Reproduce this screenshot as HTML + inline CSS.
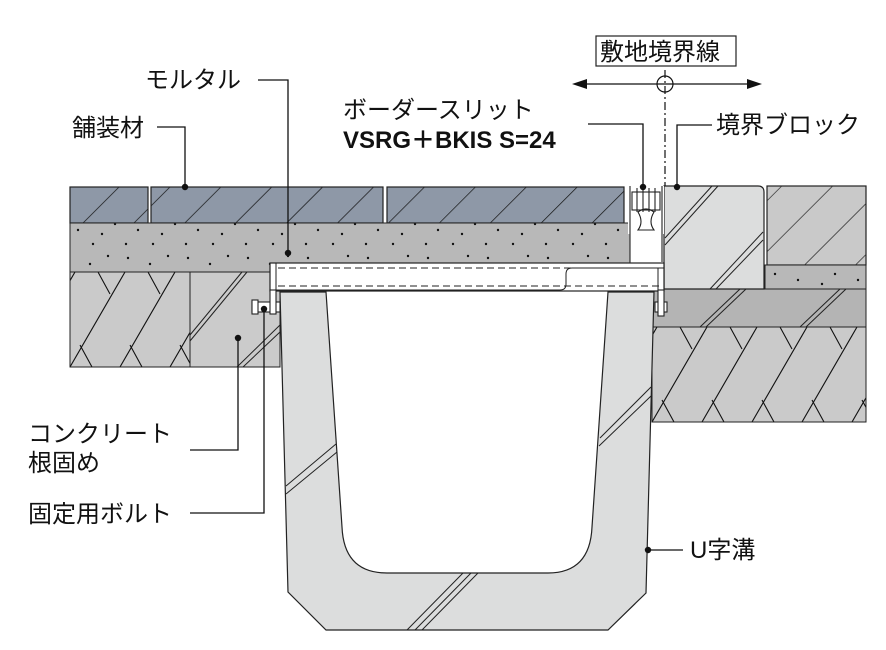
<!DOCTYPE html>
<html><head><meta charset="utf-8"><style>
html,body{margin:0;padding:0;background:#fff}
svg{display:block}
text{font-family:"Liberation Sans","Noto Sans CJK JP",sans-serif;font-size:24px;fill:#111}
</style></head><body>
<svg width="886" height="650" viewBox="0 0 886 650" xmlns="http://www.w3.org/2000/svg">
<defs>
<pattern id="pave" width="36" height="36" patternUnits="userSpaceOnUse" patternTransform="rotate(45)">
<rect width="36" height="36" fill="#8e98a7"/><line x1="0" y1="0" x2="0" y2="36" stroke="#111" stroke-width="1.4"/></pattern>
<pattern id="blk" width="36" height="36" patternUnits="userSpaceOnUse" patternTransform="rotate(45)">
<rect width="36" height="36" fill="#c9c9c9"/><line x1="0" y1="0" x2="0" y2="36" stroke="#111" stroke-width="1.2"/></pattern>
<pattern id="soilL" width="50" height="95" patternUnits="userSpaceOnUse" x="70" y="272">
<rect width="50" height="95" fill="#cacaca"/>
<g stroke="#111" stroke-width="1.1"><line x1="-100" y1="95" x2="-45" y2="0"/><line x1="-50" y1="95" x2="5" y2="0"/><line x1="0" y1="95" x2="55" y2="0"/><line x1="50" y1="95" x2="105" y2="0"/>
<line x1="28" y1="0" x2="40" y2="22"/><line x1="22" y1="95" x2="10" y2="73"/></g></pattern>
<pattern id="soilR" width="50" height="95" patternUnits="userSpaceOnUse" x="652" y="327">
<rect width="50" height="95" fill="#cacaca"/>
<g stroke="#111" stroke-width="1.1"><line x1="-100" y1="95" x2="-45" y2="0"/><line x1="-50" y1="95" x2="5" y2="0"/><line x1="0" y1="95" x2="55" y2="0"/><line x1="50" y1="95" x2="105" y2="0"/>
<line x1="28" y1="0" x2="40" y2="22"/><line x1="22" y1="95" x2="10" y2="73"/></g></pattern>
<pattern id="mort" width="60" height="50" patternUnits="userSpaceOnUse">
<rect width="60" height="50" fill="#b8b8b8"/>
<g fill="#111"><circle cx="8" cy="8" r="1.2"/><circle cx="30" cy="14" r="1.2"/><circle cx="48" cy="6" r="1.2"/><circle cx="18" cy="30" r="1.2"/><circle cx="42" cy="34" r="1.2"/><circle cx="55" cy="24" r="1.2"/><circle cx="6" cy="44" r="1.2"/><circle cx="33" cy="44" r="1.2"/></g></pattern>
</defs>

<rect x="70" y="187" width="78" height="36" fill="url(#pave)" stroke="#222" stroke-width="1.2"/>
<rect x="151" y="187" width="232" height="36" fill="url(#pave)" stroke="#222" stroke-width="1.2"/>
<rect x="387" y="187" width="237" height="36" fill="url(#pave)" stroke="#222" stroke-width="1.2"/>
<rect x="70" y="223" width="560" height="49" fill="url(#mort)" stroke="#222" stroke-width="1"/>
<rect x="70" y="272" width="120" height="95" fill="url(#soilL)" stroke="#222" stroke-width="1"/>
<rect x="190" y="272" width="90" height="95" fill="#cbcbcb" stroke="#222" stroke-width="1"/>
<g stroke="#222" stroke-width="1"><line x1="190" y1="335" x2="242" y2="272"/><line x1="190" y1="341" x2="247" y2="272"/><line x1="237" y1="367" x2="280" y2="325"/><line x1="243" y1="367" x2="280" y2="332"/></g>

<rect x="652" y="289" width="214" height="38" fill="#b4b4b4" stroke="#222" stroke-width="1"/>
<g stroke="#222" stroke-width="1"><line x1="700" y1="327" x2="740" y2="289"/><line x1="706" y1="327" x2="746" y2="289"/><line x1="800" y1="327" x2="840" y2="289"/><line x1="806" y1="327" x2="846" y2="289"/></g>
<rect x="652" y="327" width="214" height="95" fill="url(#soilR)" stroke="#222" stroke-width="1"/>
<rect x="767" y="186" width="99" height="79" fill="url(#blk)" stroke="#222" stroke-width="1.2"/>
<rect x="765" y="265" width="101" height="24" fill="url(#mort)" stroke="#222" stroke-width="1"/>
<path d="M664 186 H758 Q764 186 764 192 V289 H664 Z" fill="#dcdddd" stroke="#222" stroke-width="1.2"/>
<g stroke="#222" stroke-width="1"><line x1="665" y1="238" x2="712" y2="186"/><line x1="665" y1="245" x2="718" y2="186"/><line x1="710" y1="289" x2="763" y2="232"/><line x1="716" y1="289" x2="763" y2="240"/></g>

<rect x="628" y="186" width="36" height="48" fill="#fff"/>
<g fill="none" stroke="#222" stroke-width="1.1">
<rect x="632" y="192" width="28" height="18"/><path d="M637 188 V212 M643 188 V212 M649 188 V212 M655 188 V212"/>
<path d="M638 212 Q646 206 654 212 Q648 222 654 230 H638 Q644 222 638 212Z"/>
<path d="M630 186 V262 M662 186 V262"/></g>

<rect x="270" y="263" width="394" height="28" fill="#fff" stroke="#222" stroke-width="1.2"/>
<g stroke="#222" stroke-width="1" fill="none"><line x1="278" y1="268" x2="630" y2="268" stroke-dasharray="7 4"/><line x1="278" y1="286" x2="660" y2="286" stroke-dasharray="7 4"/>
<path d="M270 290 H560 Q566 290 566 284 V274 Q566 268 572 268 H664"/><path d="M276 263 V291 M658 268 V291"/></g>

<path d="M280 292 L326 292 L342 527 Q344 573 387 573 L548 573 Q590 573 592 527 L608 292 L654 292 L646 593 L608 630 L326 630 L288 592 Z" fill="#dcdddd" stroke="#222" stroke-width="1.2"/>
<g stroke="#222" stroke-width="1"><line x1="286" y1="486" x2="336" y2="444"/><line x1="286" y1="494" x2="337" y2="452"/>
<line x1="600" y1="438" x2="651" y2="387"/><line x1="599" y1="446" x2="651" y2="396"/>
<line x1="407" y1="630" x2="463" y2="573"/><line x1="415" y1="630" x2="471" y2="573"/><line x1="422" y1="630" x2="478" y2="573"/></g>

<g fill="#fff" stroke="#222" stroke-width="1.1">
<rect x="252" y="302" width="28" height="10"/><rect x="252" y="300" width="6" height="14"/><rect x="270" y="290" width="6" height="24"/>
<rect x="655" y="302" width="12" height="10"/><rect x="658" y="290" width="6" height="26"/></g>

<rect x="596" y="36" width="140" height="30" fill="#fff" stroke="#222" stroke-width="1.2"/>
<text x="600" y="60" font-size="24">敷地境界線</text>
<line x1="585" y1="84" x2="750" y2="84" stroke="#111" stroke-width="1.3"/>
<polygon points="572,84 587,79 587,89" fill="#111"/><polygon points="762,84 747,79 747,89" fill="#111"/>
<circle cx="665" cy="84" r="8" fill="none" stroke="#111" stroke-width="1.2"/>
<line x1="665" y1="70" x2="665" y2="186" stroke="#111" stroke-width="1.2" stroke-dasharray="8 3 2 3"/>

<g stroke="#111" stroke-width="1.3" fill="none">
<path d="M258 80 H288 V253"/><path d="M157 127 H185 V187"/><path d="M588 124 H643 V187"/><path d="M712 125 H677 V187"/>
<path d="M190 450 H238 V338"/><path d="M190 513 H264 V309"/><path d="M648 550 H683"/></g>
<g fill="#111"><circle cx="288" cy="253" r="3.2"/><circle cx="185" cy="187" r="3.2"/><circle cx="643" cy="187" r="3.2"/><circle cx="677" cy="187" r="3.2"/><circle cx="238" cy="338" r="3.2"/><circle cx="264" cy="309" r="3.2"/><circle cx="648" cy="550" r="3.2"/></g>

<text x="145" y="88">モルタル</text>
<text x="72" y="136">舗装材</text>
<text x="343" y="118">ボーダースリット</text>
<text x="343" y="148" font-weight="bold" font-size="24">VSRG＋BKIS  S=24</text>
<text x="716" y="133">境界ブロック</text>
<text x="28" y="442">コンクリート</text>
<text x="28" y="471">根固め</text>
<text x="28" y="522">固定用ボルト</text>
<text x="690" y="558">U字溝</text>
</svg>
</body></html>
